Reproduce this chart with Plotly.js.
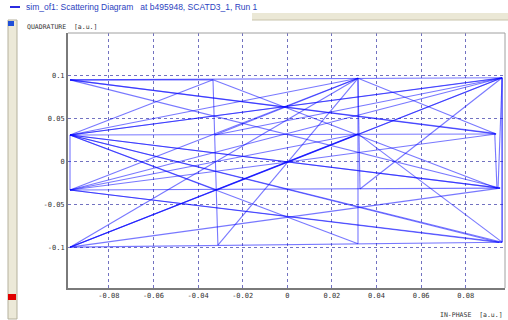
<!DOCTYPE html>
<html>
<head>
<meta charset="utf-8">
<script src="https://cdn.plot.ly/plotly-3.0.1.min.js"></script>
<style>html,body{margin:0;padding:0;background:#fff;}#chart{width:508px;height:320px;}</style>
</head>
<body>
<div id="chart"></div>
<script>
// Scattering diagram trajectory (in-phase / quadrature samples, in order)
const inPhase = [
  -0.0974, 0.0963, 0.0963, -0.0974, 0.0954, -0.0974, 0.0963, -0.0974, 0.0936, 0.0003,
   0.0317, 0.0317, -0.0974, -0.0333, -0.0311, 0.0003, -0.0974, 0.0317, -0.0974, 0.0950,
  -0.0974, 0.0955, -0.0324, 0.0317, -0.0974, 0.0963, 0.0963, 0.0003, -0.0974, -0.0974,
   0.0317, 0.0326, 0.0963, 0.0945, -0.0974, 0.0930, 0.0940, -0.0333, -0.0974, 0.0936,
   0.0317, -0.0974, 0.0317, 0.0963, -0.0974, 0.0003, 0.0954, -0.0974, -0.0315, 0.0963
];
const quadrature = [
   0.0952, 0.0976, -0.0936, -0.0994, -0.0307, -0.0329, 0.0976, 0.0311, 0.0323, -0.0003,
   0.0970, -0.0953, 0.0311, 0.0952, -0.0971, -0.0003, -0.0994, 0.0323, -0.0329, -0.0940,
   0.0311, 0.0970, 0.0311, 0.0970, 0.0311, -0.0936, 0.0976, -0.0003, 0.0311, -0.0329,
   0.0970, -0.0318, 0.0976, -0.0300, 0.0952, 0.0330, -0.0310, 0.0952, 0.0952, 0.0323,
   0.0970, -0.0994, 0.0323, -0.0936, -0.0329, -0.0003, -0.0307, 0.0311, -0.0329, 0.0976
];
const xTicks = [-0.08, -0.06, -0.04, -0.02, 0, 0.02, 0.04, 0.06, 0.08];
const yTicks = [-0.1, -0.05, 0, 0.05, 0.1];
const xTickText = ['-0.08', '-0.06', '-0.04', '-0.02', '0', '0.02', '0.04', '0.06', '0.08'];
const yTickText = ['-0.1', '-0.05', '0', '0.05', '0.1'];
const headerText = 'sim_of1: Scattering Diagram   at b495948, SCATD3_1, Run 1';
const yTitle = 'QUADRATURE  [a.u.]';
const xTitle = 'IN-PHASE  [a.u.]';

const traces = [];
for (let i = 0; i < inPhase.length - 1; i++) {
  traces.push({
    type: 'scatter', mode: 'lines',
    x: [inPhase[i], inPhase[i + 1]],
    y: [quadrature[i], quadrature[i + 1]],
    line: {color: 'rgba(10,10,255,0.55)', width: 1.1},
    hoverinfo: 'skip', showlegend: false
  });
}

const mono = 'DejaVu Sans Mono, monospace';
const L = 68, R = 505, T = 33, B = 288;
const px = v => (v - L) / (R - L);
const py = v => (B - v) / (B - T);

const layout = {
  width: 508, height: 320,
  margin: {l: L, r: 508 - R, t: T, b: 320 - B},
  paper_bgcolor: '#ffffff', plot_bgcolor: '#ffffff',
  showlegend: false,
  xaxis: {
    range: [-0.0983, 0.0976], tickvals: xTicks, ticktext: xTickText,
    showgrid: true, gridcolor: '#7272c0', griddash: 'dot', gridwidth: 1,
    zeroline: false, showline: true, mirror: false, linecolor: '#7a7a7a', linewidth: 2,
    ticks: '', tickfont: {family: mono, size: 7, color: '#333'}, fixedrange: true
  },
  yaxis: {
    range: [-0.1469, 0.1497], tickvals: yTicks, ticktext: yTickText,
    showgrid: true, gridcolor: '#7272c0', griddash: 'dot', gridwidth: 1,
    zeroline: false, showline: true, mirror: false, linecolor: '#7a7a7a', linewidth: 2,
    ticks: '', tickfont: {family: mono, size: 7, color: '#333'}, fixedrange: true
  },
  shapes: [
    {type: 'line', xref: 'paper', yref: 'paper', x0: 0, x1: 1, y0: 1, y1: 1,
     line: {color: '#a0a0a0', width: 1}},
    {type: 'line', xref: 'paper', yref: 'paper', x0: 1, x1: 1, y0: 0, y1: 1,
     line: {color: '#a0a0a0', width: 1}},
    {type: 'rect', xref: 'paper', yref: 'paper', x0: px(252), x1: px(509), y0: py(20), y1: py(13),
     fillcolor: '#ebe8d6', line: {width: 0}, layer: 'below'},
    {type: 'line', xref: 'paper', yref: 'paper', x0: px(252), x1: px(509), y0: py(20), y1: py(20),
     line: {color: '#c8c3ab', width: 1}},
    {type: 'rect', xref: 'paper', yref: 'paper', x0: px(8), x1: px(17), y0: py(319), y1: py(20),
     fillcolor: '#ece9d8', line: {color: '#b5b19d', width: 1}},
    {type: 'rect', xref: 'paper', yref: 'paper', x0: px(8), x1: px(16), y0: py(300), y1: py(294),
     fillcolor: '#e00000', line: {width: 0}},
    {type: 'rect', xref: 'paper', yref: 'paper', x0: px(8), x1: px(14), y0: py(26), y1: py(21),
     fillcolor: '#1f4fd8', line: {width: 0}},
    {type: 'line', xref: 'paper', yref: 'paper', x0: px(10), x1: px(20), y0: py(7), y1: py(7),
     line: {color: '#2b2be0', width: 2}}
  ],
  annotations: [
    {xref: 'paper', yref: 'paper', x: px(24), y: py(7), xanchor: 'left', yanchor: 'middle',
     text: headerText, showarrow: false, font: {family: 'Liberation Sans, Arial, sans-serif', size: 8.5, color: '#2b3fc0'}},
    {xref: 'paper', yref: 'paper', x: px(25), y: py(27), xanchor: 'left', yanchor: 'middle',
     text: yTitle, showarrow: false, font: {family: mono, size: 6.5, color: '#333'}},
    {xref: 'paper', yref: 'paper', x: px(505), y: py(315), xanchor: 'right', yanchor: 'middle',
     text: xTitle, showarrow: false, font: {family: mono, size: 6.5, color: '#333'}}
  ]
};

Plotly.newPlot('chart', traces, layout, {displayModeBar: false, staticPlot: true});
</script>
</body>
</html>
